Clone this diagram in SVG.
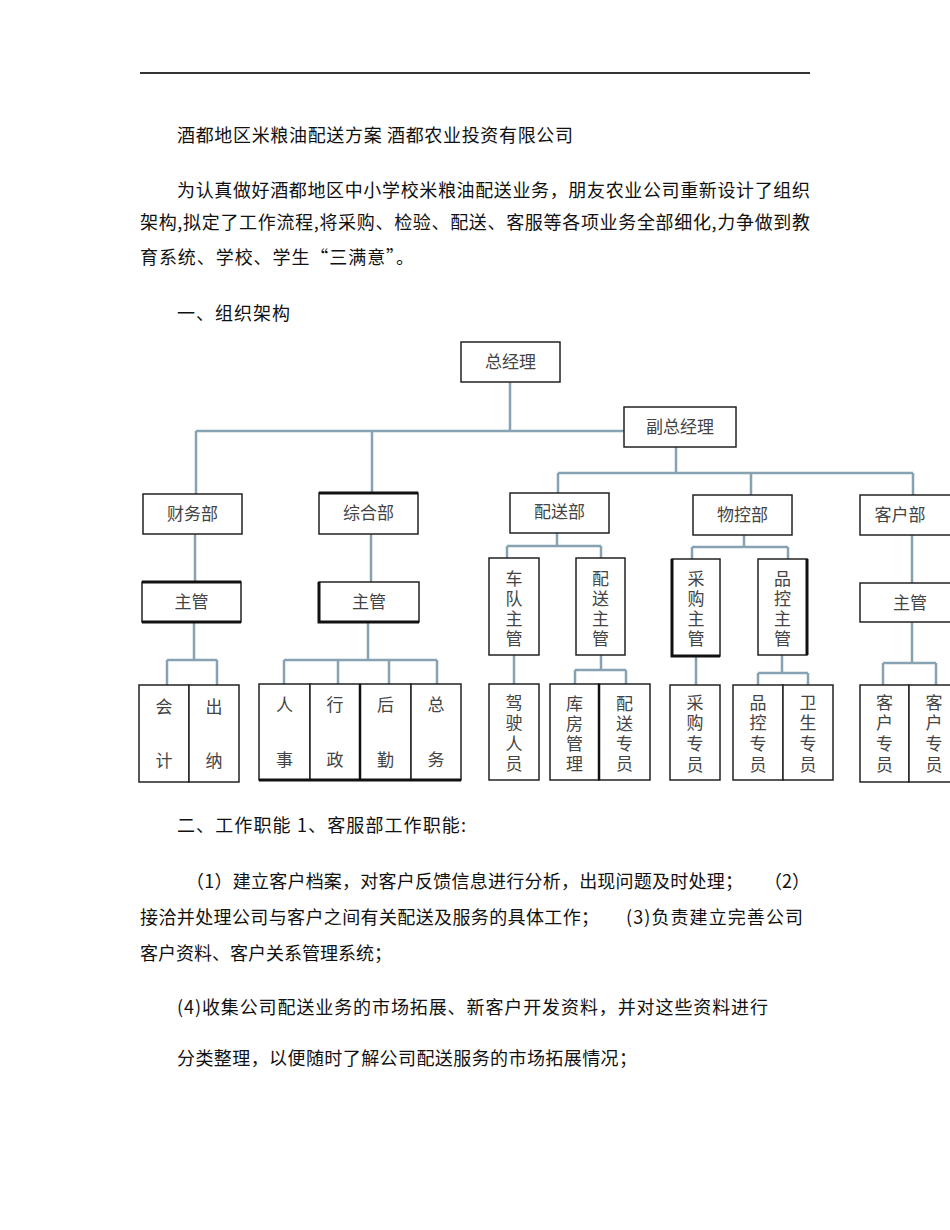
<svg xmlns="http://www.w3.org/2000/svg" width="950" height="1230" viewBox="0 0 950 1230">
<style>
.body{font-family:"Noto Sans CJK SC","Noto Sans",sans-serif;font-size:18px;fill:#111;}
.lbl{font-family:"Noto Sans CJK SC","Noto Sans",sans-serif;font-size:17px;fill:#444;text-anchor:middle;}
.box{fill:#fff;stroke:#222;stroke-width:1.5;}
.thick{stroke-width:2.6;}
.conn{stroke:#86a2b3;stroke-width:2.5;fill:none;}
</style>
<rect width="950" height="1230" fill="#fff"/>
<line x1="140" y1="73" x2="810" y2="73" stroke="#333" stroke-width="2"/>

<g id="text-top">
<text class="body" x="177" y="142" textLength="396" lengthAdjust="spacing">酒都地区米粮油配送方案 酒都农业投资有限公司</text>
<text class="body" x="177" y="197" textLength="633" lengthAdjust="spacing">为认真做好酒都地区中小学校米粮油配送业务，朋友农业公司重新设计了组织</text>
<text class="body" x="140" y="229" textLength="670" lengthAdjust="spacing">架构,拟定了工作流程,将采购、检验、配送、客服等各项业务全部细化,力争做到教</text>
<text class="body" x="140" y="264" textLength="274" lengthAdjust="spacing">育系统、学校、学生“三满意”。</text>
<text class="body" x="177" y="320" textLength="113" lengthAdjust="spacing">一、组织架构</text>
</g>

<g id="connectors">
<path class="conn" d="M510 382V431M196 431H624M196 431V494M372 431V493"/>
<path class="conn" d="M676 447V473M558 473H913M558 473V493M751 473V495M913 473V495"/>
<path class="conn" d="M195 534V582M194 622V660M167 660H217M167 660V685M217 660V685"/>
<path class="conn" d="M371 534V582M368 622V660M284 660H437M284 660V684M338 660V684M389 660V684M437 660V684"/>
<path class="conn" d="M557 533V546M507 546H601M507 546V558M601 546V558M514 655V684M601 655V670M575 670H626M575 670V684M626 670V684"/>
<path class="conn" d="M744 535V547M692 547H788M692 547V559M788 547V559M696 656V685M782 655V673M758 673H808M758 673V685M808 673V685"/>
<path class="conn" d="M912 535V583M912 622V663M883 663H936M883 663V685M936 663V685"/>
</g>

<g id="n-zongjingli"><rect class="box" x="461" y="342" width="99" height="40"/><text class="lbl" x="510.5" y="368">总经理</text></g>
<g id="n-fuzongjingli"><rect class="box" x="624" y="407" width="112" height="40"/><text class="lbl" x="680" y="433">副总经理</text></g>

<g id="n-caiwu"><rect class="box" x="143" y="494" width="99" height="40"/><text class="lbl" x="192.5" y="520">财务部</text></g>
<g id="n-zonghe"><rect class="box" x="319" y="493" width="99" height="41"/><line x1="319" y1="493" x2="418" y2="493" stroke="#111" stroke-width="3"/><text class="lbl" x="368.5" y="519">综合部</text></g>
<g id="n-peisong"><rect class="box" x="510" y="493" width="99" height="40"/><text class="lbl" x="559.5" y="518">配送部</text></g>
<g id="n-wukong"><rect class="box" x="693" y="495" width="99" height="40"/><text class="lbl" x="742.5" y="521">物控部</text></g>
<g id="n-kehu"><rect class="box" x="860" y="495" width="100" height="40"/><text class="lbl" x="900" y="521">客户部</text></g>

<g id="n-caiwu-zhuguan"><rect class="box" x="142" y="582" width="99" height="40"/><line x1="142" y1="582" x2="241" y2="582" stroke="#111" stroke-width="3"/><line x1="142" y1="622" x2="241" y2="622" stroke="#111" stroke-width="3"/><text class="lbl" x="191.5" y="608">主管</text></g>
<g id="n-zonghe-zhuguan"><rect class="box" x="319" y="582" width="100" height="40"/><path d="M319 582V622H419" stroke="#111" stroke-width="3" fill="none"/><text class="lbl" x="369" y="608">主管</text></g>
<g id="n-kehu-zhuguan"><rect class="box" x="860" y="583" width="100" height="39"/><text class="lbl" x="910" y="609">主管</text></g>

<g id="n-chedui"><rect class="box" x="489" y="558" width="50" height="97"/><text class="lbl" x="514"><tspan x="514" y="585">车</tspan><tspan x="514" y="605">队</tspan><tspan x="514" y="625">主</tspan><tspan x="514" y="645">管</tspan></text></g>
<g id="n-peisong-zhuguan"><rect class="box" x="576" y="558" width="49" height="97"/><text class="lbl" x="600.5"><tspan x="600.5" y="585">配</tspan><tspan x="600.5" y="605">送</tspan><tspan x="600.5" y="625">主</tspan><tspan x="600.5" y="645">管</tspan></text></g>
<g id="n-caigou-zhuguan"><rect class="box" x="672" y="559" width="48" height="97"/><path d="M672 559V656H720" stroke="#111" stroke-width="3" fill="none"/><text class="lbl" x="696"><tspan x="696" y="585">采</tspan><tspan x="696" y="605">购</tspan><tspan x="696" y="625">主</tspan><tspan x="696" y="645">管</tspan></text></g>
<g id="n-pinkong-zhuguan"><rect class="box" x="758" y="559" width="49" height="96"/><line x1="807" y1="559" x2="807" y2="655" stroke="#111" stroke-width="3"/><text class="lbl" x="782.5"><tspan x="782.5" y="585">品</tspan><tspan x="782.5" y="605">控</tspan><tspan x="782.5" y="625">主</tspan><tspan x="782.5" y="645">管</tspan></text></g>

<g id="n-kuaiji"><rect class="box" x="139" y="685" width="50" height="97"/><text class="lbl"><tspan x="164" y="713">会</tspan><tspan x="164" y="767">计</tspan></text></g>
<g id="n-chuna"><rect class="box" x="189" y="685" width="50" height="97"/><text class="lbl"><tspan x="214" y="713">出</tspan><tspan x="214" y="767">纳</tspan></text></g>

<g id="n-renshi"><rect class="box" x="259" y="684" width="51" height="96"/><text class="lbl"><tspan x="284.5" y="711">人</tspan><tspan x="284.5" y="766">事</tspan></text></g>
<g id="n-xingzheng"><rect class="box" x="310" y="684" width="50" height="96"/><text class="lbl"><tspan x="335" y="711">行</tspan><tspan x="335" y="766">政</tspan></text></g>
<g id="n-houqin"><rect class="box" x="360" y="684" width="51" height="96"/><line x1="360" y1="684" x2="360" y2="780" stroke="#111" stroke-width="2.5"/><text class="lbl"><tspan x="385.5" y="711">后</tspan><tspan x="385.5" y="766">勤</tspan></text></g>
<g id="n-zongwu"><rect class="box" x="411" y="684" width="50" height="96"/><text class="lbl"><tspan x="436" y="711">总</tspan><tspan x="436" y="766">务</tspan></text></g>
<line x1="259" y1="780" x2="461" y2="780" stroke="#111" stroke-width="3"/>

<g id="n-jiashi"><rect class="box" x="489" y="684" width="50" height="96"/><text class="lbl"><tspan x="514" y="709">驾</tspan><tspan x="514" y="729">驶</tspan><tspan x="514" y="750">人</tspan><tspan x="514" y="770">员</tspan></text></g>
<g id="n-kufang"><rect class="box" x="550" y="684" width="49" height="96"/><text class="lbl"><tspan x="574.5" y="710">库</tspan><tspan x="574.5" y="730">房</tspan><tspan x="574.5" y="750">管</tspan><tspan x="574.5" y="770">理</tspan></text></g>
<g id="n-peisong-zhuanyuan"><rect class="box" x="599" y="684" width="51" height="96"/><line x1="599" y1="684" x2="599" y2="780" stroke="#111" stroke-width="2.5"/><text class="lbl"><tspan x="624.5" y="710">配</tspan><tspan x="624.5" y="730">送</tspan><tspan x="624.5" y="750">专</tspan><tspan x="624.5" y="770">员</tspan></text></g>

<g id="n-caigou-zhuanyuan"><rect class="box" x="670" y="685" width="50" height="95"/><text class="lbl"><tspan x="695" y="709">采</tspan><tspan x="695" y="729">购</tspan><tspan x="695" y="750">专</tspan><tspan x="695" y="771">员</tspan></text></g>
<g id="n-pinkong-zhuanyuan"><rect class="box" x="733" y="685" width="50" height="95"/><text class="lbl"><tspan x="758" y="709">品</tspan><tspan x="758" y="729">控</tspan><tspan x="758" y="750">专</tspan><tspan x="758" y="771">员</tspan></text></g>
<g id="n-weisheng-zhuanyuan"><rect class="box" x="783" y="685" width="50" height="95"/><text class="lbl"><tspan x="808" y="709">卫</tspan><tspan x="808" y="729">生</tspan><tspan x="808" y="750">专</tspan><tspan x="808" y="771">员</tspan></text></g>

<g id="n-kehu-zhuanyuan1"><rect class="box" x="860" y="685" width="49" height="97"/><text class="lbl"><tspan x="884.5" y="709">客</tspan><tspan x="884.5" y="729">户</tspan><tspan x="884.5" y="750">专</tspan><tspan x="884.5" y="771">员</tspan></text></g>
<g id="n-kehu-zhuanyuan2"><rect class="box" x="909" y="685" width="50" height="97"/><text class="lbl"><tspan x="934" y="709">客</tspan><tspan x="934" y="729">户</tspan><tspan x="934" y="750">专</tspan><tspan x="934" y="771">员</tspan></text></g>

<g id="text-bottom">
<text class="body" x="177" y="832" textLength="289" lengthAdjust="spacing">二、工作职能 1、客服部工作职能:</text>
<text class="body" x="186" y="888" textLength="557" lengthAdjust="spacing">（1）建立客户档案，对客户反馈信息进行分析，出现问题及时处理；</text>
<text class="body" x="764" y="888" textLength="46" lengthAdjust="spacing">（ 2 ）</text>
<text class="body" x="140" y="924" textLength="459" lengthAdjust="spacing">接洽并处理公司与客户之间有关配送及服务的具体工作；</text>
<text class="body" x="626" y="924" textLength="177" lengthAdjust="spacing">(3)负责建立完善公司</text>
<text class="body" x="140" y="960" textLength="252" lengthAdjust="spacing">客户资料、客户关系管理系统；</text>
<text class="body" x="177" y="1014" textLength="591" lengthAdjust="spacing">(4)收集公司配送业务的市场拓展、新客户开发资料，并对这些资料进行</text>
<text class="body" x="177" y="1065" textLength="460" lengthAdjust="spacing">分类整理，以便随时了解公司配送服务的市场拓展情况；</text>
</g>
</svg>
